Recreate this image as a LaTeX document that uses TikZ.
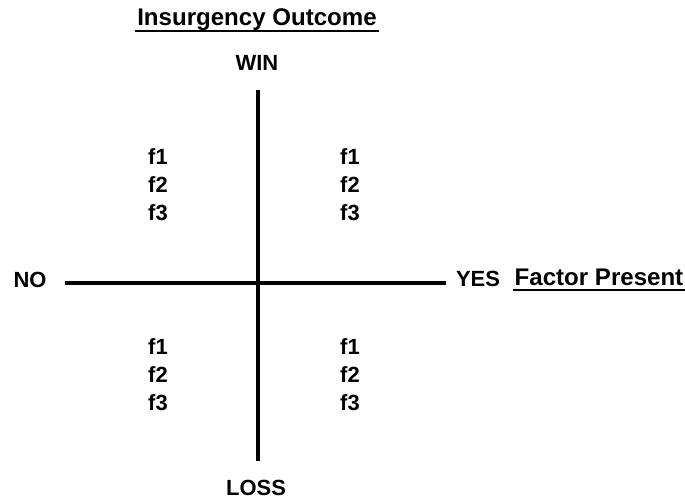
\documentclass[tikz,border=0pt]{standalone}
\usepackage{fontspec}
\setmainfont{Liberation Sans}
\begin{document}
\begin{tikzpicture}[x=0.02cm,y=-0.02cm,
    lbl/.style={font=\fontsize{12.5}{14}\selectfont\bfseries, inner sep=1pt},
    axis/.style={line width=2.3pt},
    heading/.style={font=\fontsize{13.7}{16}\selectfont\bfseries, inner sep=1pt}]
    \useasboundingbox (0,0) rectangle (685,502);

    % axis ends
    \coordinate (top) at (258,90);
    \coordinate (bottom) at (258,461);
    \coordinate (left) at (65,283);
    \coordinate (right) at (446,283);
    \draw[axis] (top) -- (bottom);
    \draw[axis] (left) -- (right);

    % titles, underlined
    \node[heading] (outcome) at (257,20) {Insurgency Outcome};
    \draw[line width=1.1pt] ([yshift=-2.8pt]outcome.base west) -- ([yshift=-2.8pt]outcome.base east);
    \node[heading] (factor) at (599,277) {Factor Present};
    \draw[line width=1.1pt] ([yshift=-2.8pt]factor.base west) -- ([yshift=-2.8pt]factor.base east);

    % axis labels
    \node[lbl] (win) at (257,63) {WIN};
    \node[lbl] (loss) at (256,488) {LOSS};
    \node[lbl] (no) at (30,280) {NO};
    \node[lbl] (yes) at (478,279) {YES};

    % factors in each quadrant
    \foreach \qx/\qy/\q in {158/157/nw, 350/157/ne, 158/347/sw, 350/347/se}{
        \node[lbl] (\q1) at (\qx,\qy) {f1};
        \node[lbl] (\q2) at (\qx,\qy+28) {f2};
        \node[lbl] (\q3) at (\qx,\qy+56) {f3};
    }
\end{tikzpicture}
\end{document}
